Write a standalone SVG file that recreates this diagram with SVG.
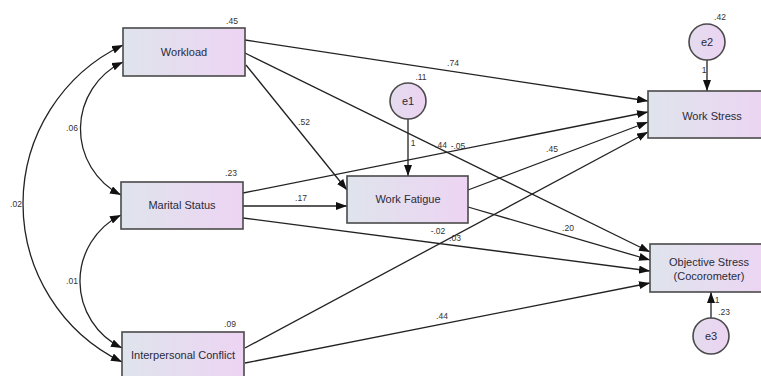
<svg xmlns="http://www.w3.org/2000/svg" width="761" height="376" viewBox="0 0 761 376">
  <defs>
    <linearGradient id="boxFill" x1="0" y1="0" x2="1" y2="0">
      <stop offset="0" stop-color="#dfe4ec"/>
      <stop offset="1" stop-color="#edd4f3"/>
    </linearGradient>
    <linearGradient id="errFill" x1="0" y1="0" x2="1" y2="0">
      <stop offset="0" stop-color="#e4dcee"/>
      <stop offset="1" stop-color="#ecd3f2"/>
    </linearGradient>
    <marker id="arrow" markerUnits="userSpaceOnUse" markerWidth="11" markerHeight="8" refX="11" refY="4" orient="auto-start-reverse">
      <path d="M0,0 L11,4 L0,8 z" fill="#111"/>
    </marker>
  </defs>
  <style>
    .box { fill: url(#boxFill); stroke: #4a4a4a; stroke-width: 1.6; }
    .err { fill: url(#errFill); stroke: #4a4a4a; stroke-width: 1.6; }
    .lbl { font-family: "Liberation Sans", Arial, sans-serif; font-size: 11px; fill: #2a2a3a; text-anchor: middle; }
    .num { font-family: "Liberation Sans", Arial, sans-serif; font-size: 8.5px; fill: #333; text-anchor: middle; }
    .edge { fill: none; stroke: #222; stroke-width: 1.3; marker-end: url(#arrow); }
    .cov { fill: none; stroke: #222; stroke-width: 1.3; marker-start: url(#arrow); marker-end: url(#arrow); }
  </style>

  <rect width="761" height="376" fill="#ffffff"/>

  <!-- connectors -->
  <g id="connectors">
    <!-- covariances between exogenous variables -->
    <path class="cov" d="M123,62 A74,74 0 0 0 121,195"/>
    <path class="cov" d="M121,215 A74,74 0 0 0 122,348"/>
    <path class="cov" d="M123,45 A176,176 0 0 0 122,362"/>
    <!-- regression paths -->
    <line class="edge" x1="245" y1="40" x2="648" y2="101"/>
    <line class="edge" x1="245" y1="53" x2="650" y2="252"/>
    <line class="edge" x1="246" y1="65" x2="347" y2="190"/>
    <line class="edge" x1="243" y1="193" x2="648" y2="112"/>
    <line class="edge" x1="243" y1="206" x2="347" y2="206"/>
    <line class="edge" x1="243" y1="218" x2="650" y2="271"/>
    <line class="edge" x1="468" y1="190" x2="648" y2="122"/>
    <line class="edge" x1="468" y1="207" x2="650" y2="260"/>
    <line class="edge" x1="245" y1="348" x2="648" y2="132"/>
    <line class="edge" x1="245" y1="363" x2="650" y2="283"/>
    <!-- error terms -->
    <line class="edge" x1="408" y1="119" x2="408" y2="176"/>
    <line class="edge" x1="707" y1="60" x2="707" y2="91"/>
    <line class="edge" x1="711" y1="318" x2="711" y2="292"/>
  </g>

  <!-- path coefficients -->
  <g id="coefficients">
    <text class="num" x="72" y="131">.06</text>
    <text class="num" x="16" y="207">.02</text>
    <text class="num" x="72" y="284">.01</text>
    <text class="num" x="453" y="66">.74</text>
    <text class="num" x="304" y="125">.52</text>
    <text class="num" x="441" y="148">.44</text>
    <text class="num" x="458" y="149">-.05</text>
    <text class="num" x="301" y="201">.17</text>
    <text class="num" x="438" y="234">-.02</text>
    <text class="num" x="455" y="241">.03</text>
    <text class="num" x="442" y="319">.44</text>
    <text class="num" x="552" y="152">.45</text>
    <text class="num" x="568" y="231">.20</text>
    <text class="num" x="413" y="146">1</text>
    <text class="num" x="704" y="73">1</text>
    <text class="num" x="717" y="303">1</text>
  </g>

  <g id="workload">
    <rect class="box" x="123" y="28" width="122" height="48"/>
    <text class="lbl" x="184" y="56">Workload</text>
    <text class="num" x="232" y="24">.45</text>
  </g>

  <g id="marital-status">
    <rect class="box" x="121" y="182" width="122" height="47"/>
    <text class="lbl" x="182" y="209">Marital Status</text>
    <text class="num" x="231" y="176">.23</text>
  </g>

  <g id="interpersonal-conflict">
    <rect class="box" x="122" y="332" width="122" height="48"/>
    <text class="lbl" x="183" y="359">Interpersonal Conflict</text>
    <text class="num" x="230" y="327">.09</text>
  </g>

  <g id="work-fatigue">
    <rect class="box" x="347" y="176" width="121" height="47"/>
    <text class="lbl" x="408" y="203">Work Fatigue</text>
  </g>

  <g id="work-stress">
    <rect class="box" x="648" y="91" width="122" height="47"/>
    <text class="lbl" x="712" y="120">Work Stress</text>
  </g>

  <g id="objective-stress">
    <rect class="box" x="650" y="244" width="122" height="48"/>
    <text class="lbl" x="709" y="266">Objective Stress</text>
    <text class="lbl" x="709" y="280">(Cocorometer)</text>
  </g>

  <g id="e1">
    <circle class="err" cx="408" cy="101" r="18"/>
    <text class="lbl" x="408" y="105">e1</text>
    <text class="num" x="421" y="80">.11</text>
  </g>

  <g id="e2">
    <circle class="err" cx="707" cy="42" r="18"/>
    <text class="lbl" x="707" y="46">e2</text>
    <text class="num" x="720" y="20">.42</text>
  </g>

  <g id="e3">
    <circle class="err" cx="711" cy="336" r="18"/>
    <text class="lbl" x="711" y="340">e3</text>
    <text class="num" x="724" y="315">.23</text>
  </g>
</svg>
